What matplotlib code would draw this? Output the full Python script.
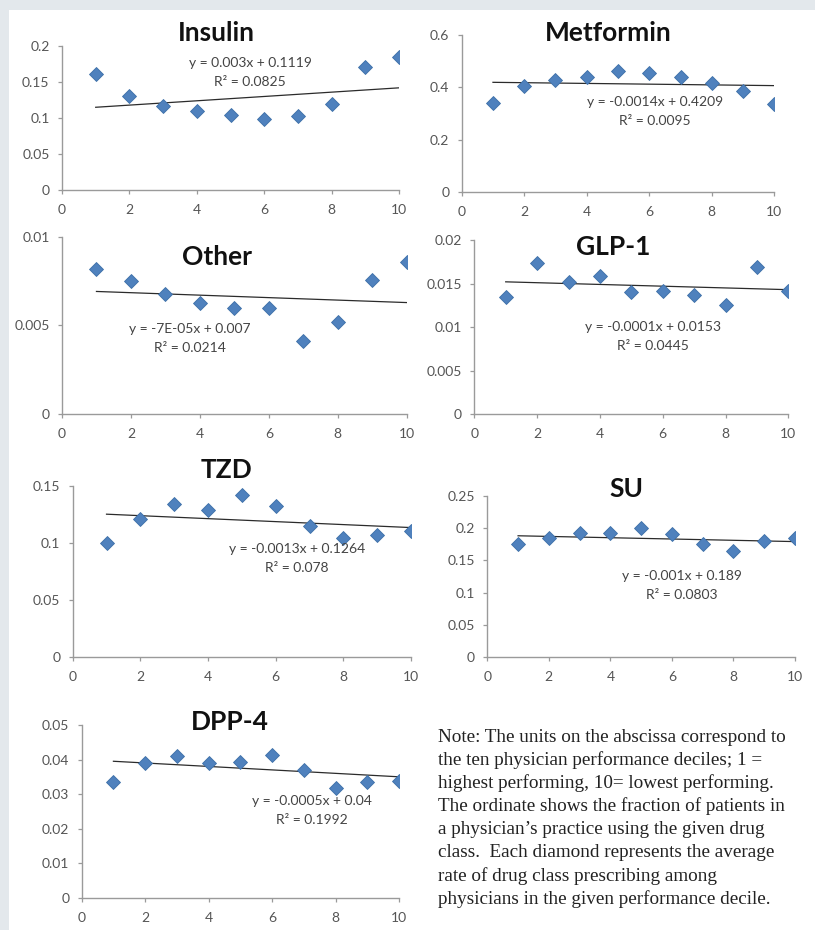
import matplotlib
matplotlib.use('Agg')
import matplotlib.pyplot as plt
from matplotlib.patches import Rectangle
import numpy as np

# decile on the x axis
deciles = [1, 2, 3, 4, 5, 6, 7, 8, 9, 10]

# average rate per decile
insulin = [0.161, 0.130, 0.116, 0.110, 0.104, 0.099, 0.103, 0.119, 0.171, 0.185]
metformin = [0.342, 0.405, 0.428, 0.441, 0.463, 0.454, 0.441, 0.416, 0.388, 0.338]
other = [0.0082, 0.0075, 0.0068, 0.0063, 0.0060, 0.0060, 0.0041, 0.0052, 0.0076, 0.0086]
glp1 = [0.0135, 0.0174, 0.0152, 0.0159, 0.0140, 0.0141, 0.0137, 0.0125, 0.0169, 0.0142]
tzd = [0.100, 0.121, 0.134, 0.129, 0.142, 0.132, 0.115, 0.104, 0.107, 0.110]
su = [0.176, 0.185, 0.192, 0.193, 0.200, 0.191, 0.176, 0.164, 0.180, 0.185]
dpp4 = [0.0334, 0.0390, 0.0411, 0.0391, 0.0392, 0.0413, 0.0370, 0.0319, 0.0334, 0.0337]

# excel trendlines (slope, intercept) as printed on the chart
slopes = [0.003, -0.0014, -7e-05, -0.0001, -0.0013, -0.001, -0.0005]
intercepts = [0.1119, 0.4209, 0.007, 0.0153, 0.1264, 0.189, 0.04]
eq_labels = ['y = 0.003x + 0.1119', 'y = -0.0014x + 0.4209', 'y = -7E-05x + 0.007',
             'y = -0.0001x + 0.0153', 'y = -0.0013x + 0.1264', 'y = -0.001x + 0.189',
             'y = -0.0005x + 0.04']
r2_labels = ['R² = 0.0825', 'R² = 0.0095', 'R² = 0.0214', 'R² = 0.0445',
             'R² = 0.078', 'R² = 0.0803', 'R² = 0.1992']
titles = ['Insulin', 'Metformin', 'Other', 'GLP-1', 'TZD', 'SU', 'DPP-4']
series = [insulin, metformin, other, glp1, tzd, su, dpp4]

xticks = [0, 2, 4, 6, 8, 10]
yticks = [[0, 0.05, 0.1, 0.15, 0.2],
          [0, 0.2, 0.4, 0.6],
          [0, 0.005, 0.01],
          [0, 0.005, 0.01, 0.015, 0.02],
          [0, 0.05, 0.1, 0.15],
          [0, 0.05, 0.1, 0.15, 0.2, 0.25],
          [0, 0.01, 0.02, 0.03, 0.04, 0.05]]
ytick_labels = [['0', '0.05', '0.1', '0.15', '0.2'],
                ['0', '0.2', '0.4', '0.6'],
                ['0', '0.005', '0.01'],
                ['0', '0.005', '0.01', '0.015', '0.02'],
                ['0', '0.05', '0.1', '0.15'],
                ['0', '0.05', '0.1', '0.15', '0.2', '0.25'],
                ['0', '0.01', '0.02', '0.03', '0.04', '0.05']]

note_lines = ['Note: The units on the abscissa correspond to',
              'the ten physician performance deciles; 1 =',
              'highest performing, 10= lowest performing.',
              'The ordinate shows the fraction of patients in',
              'a physician\u2019s practice using the given drug',
              'class.  Each diamond represents the average',
              'rate of drug class prescribing among',
              'physicians in the given performance decile.']

# layout in pixels (left, right, top, bottom of the plot area)
W, H = 815, 930
boxes = [(62, 399, 46, 190), (461.7, 774.3, 35, 192.3),
         (62, 406.7, 237.3, 413.7), (474.3, 788.3, 240, 414.3),
         (72.7, 411, 485.7, 657.3), (487.3, 795, 495.7, 657.3),
         (81.7, 399, 725, 897.7)]
title_pos = [(216.7, 33), (608.3, 33), (217, 256.7), (613, 246.7),
             (226.7, 470), (626.7, 489.3), (230, 721.7)]
eq_pos = [(250, 63), (655, 102), (190, 329), (653, 327.3),
          (296.7, 549), (681.7, 576), (311.7, 801)]

def fx(x):
    return x / W

def fy(y):
    return 1 - y / H

plt.rcParams['font.family'] = ['Lato', 'DejaVu Sans']

fig = plt.figure(figsize=(W / 100, H / 100), dpi=100)
fig.patch.set_facecolor('#e3e8ec')
fig.patches.append(Rectangle((fx(9), 0), 1, fy(10), transform=fig.transFigure,
                             facecolor='white', edgecolor='none', zorder=-10))

axis_col = '#9a9a9a'
for i in range(len(titles)):
    l, r, t, b = boxes[i]
    ax = fig.add_axes([fx(l), fy(b), (r - l) / W, (b - t) / H])
    ax.patch.set_alpha(0)
    ax.plot(deciles, series[i], ls='none', marker='D', markersize=7.5,
            markerfacecolor='#4f81bd', markeredgecolor='#3d6fa8', markeredgewidth=0.6,
            zorder=3)
    xs = np.array([deciles[0], deciles[-1]])
    ax.plot(xs, slopes[i] * xs + intercepts[i], color='#2b2b2b', lw=0.9, zorder=2)
    ax.set_xlim(0, 10)
    ax.set_ylim(yticks[i][0], yticks[i][-1])
    ax.set_xticks(xticks)
    ax.set_yticks(yticks[i])
    ax.set_yticklabels(ytick_labels[i])
    for s in ['top', 'right']:
        ax.spines[s].set_visible(False)
    for s in ['left', 'bottom']:
        ax.spines[s].set_color(axis_col)
        ax.spines[s].set_linewidth(1.0)
    ax.tick_params(axis='both', direction='out', length=3, width=0.9, color=axis_col,
                   labelsize=10, labelcolor='#555555')
    ax.tick_params(axis='y', pad=6)
    ax.tick_params(axis='x', pad=7)
    for lab in ax.get_xticklabels() + ax.get_yticklabels():
        lab.set_clip_on(False)

    tx, ty = title_pos[i]
    fig.text(fx(tx), fy(ty), titles[i], ha='center', va='center', fontsize=19,
             fontweight='bold', color='#111111')
    ex, ey = eq_pos[i]
    fig.text(fx(ex), fy(ey), eq_labels[i], ha='center', va='center', fontsize=10,
             color='#444444')
    fig.text(fx(ex), fy(ey + 19), r2_labels[i], ha='center', va='center', fontsize=10,
             color='#444444')

# the note in the bottom right corner
for k, line in enumerate(note_lines):
    fig.text(fx(437.7), fy(737 + 23.1 * k), line, ha='left', va='center',
             fontsize=13.8, family='Liberation Serif', color='#222222')

plt.savefig('out.png', dpi=100, facecolor=fig.get_facecolor())
